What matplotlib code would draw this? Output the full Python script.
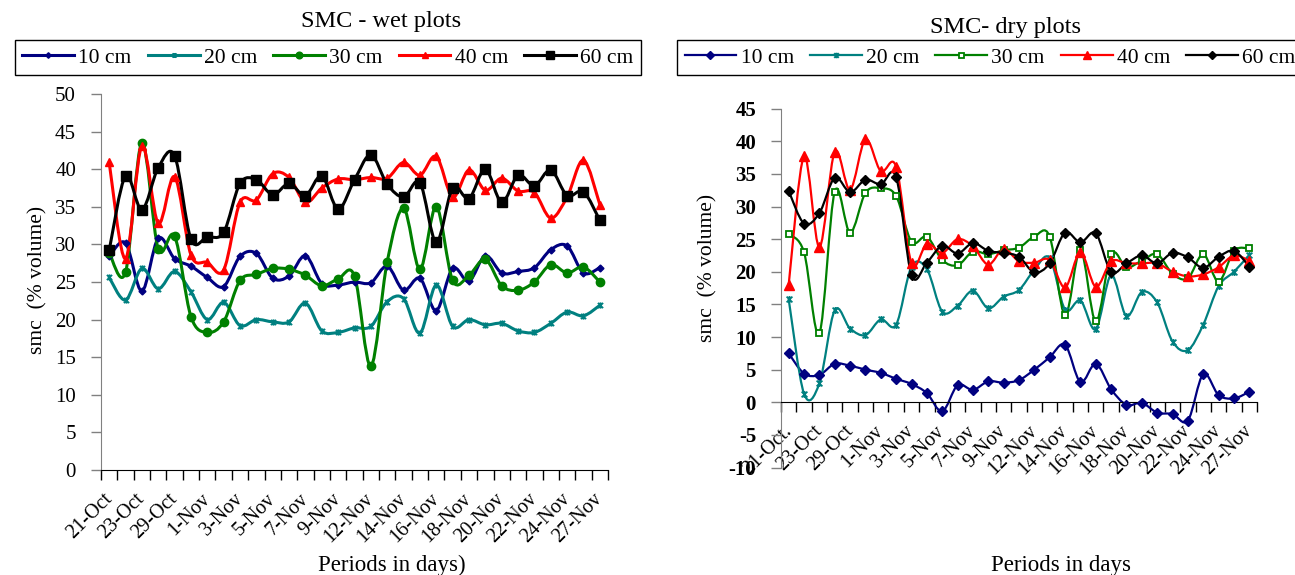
import matplotlib.pyplot as plt
import numpy as np
from matplotlib.path import Path
from matplotlib.patches import PathPatch
from matplotlib.lines import Line2D

plt.rcParams['font.family'] = ['Liberation Serif', 'DejaVu Serif']
plt.rcParams['axes.unicode_minus'] = False

depths = ['10 cm', '20 cm', '30 cm', '40 cm', '60 cm']
colors = ['#000080', '#008080', '#008000', '#ff0000', '#000000']

# every second sampling date is labelled on the axis
labels_wet = ['21-Oct', '23-Oct', '29-Oct', '1-Nov', '3-Nov', '5-Nov', '7-Nov', '9-Nov',
              '12-Nov', '14-Nov', '16-Nov', '18-Nov', '20-Nov', '22-Nov', '24-Nov', '27-Nov']
labels_dry = ['21-Oct.'] + labels_wet[1:]

# SMC - wet plots
wet_10 = [28.4, 30.2, 23.8, 30.8, 28.1, 27.1, 25.6, 24.4, 28.4, 28.8, 25.5, 25.8, 28.5, 24.8, 24.6, 25.0,
          24.9, 27.1, 23.9, 25.5, 21.2, 26.8, 25.1, 28.5, 26.2, 26.4, 26.9, 29.3, 29.8, 26.2, 26.9]
wet_20 = [25.6, 22.6, 26.8, 24.1, 26.4, 23.7, 20.0, 22.3, 19.2, 20.0, 19.7, 19.7, 22.2, 18.5, 18.3, 18.9,
          19.1, 22.4, 22.8, 18.2, 24.6, 19.1, 20.0, 19.3, 19.5, 18.5, 18.3, 19.5, 21.0, 20.5, 21.9]
wet_30 = [28.9, 26.3, 43.5, 29.4, 31.1, 20.4, 18.3, 19.7, 25.2, 26.0, 26.8, 26.7, 25.9, 24.5, 25.4, 25.8,
          13.8, 27.7, 34.8, 26.7, 35.0, 25.2, 25.9, 28.0, 24.5, 23.9, 25.0, 27.3, 26.2, 27.0, 25.0]
wet_40 = [40.9, 28.1, 43.1, 32.8, 39.0, 28.6, 27.6, 26.6, 35.6, 35.9, 39.4, 38.9, 35.6, 37.5, 38.7, 38.6,
          38.9, 38.8, 40.9, 39.2, 41.7, 36.3, 39.9, 37.2, 38.8, 37.1, 36.9, 33.5, 36.3, 41.2, 35.3]
wet_60 = [29.2, 39.1, 34.6, 40.2, 41.8, 30.7, 31.0, 31.6, 38.1, 38.6, 36.6, 38.1, 36.5, 39.1, 34.7, 38.6,
          41.9, 38.0, 36.3, 38.2, 30.3, 37.5, 36.1, 40.0, 35.6, 39.2, 37.8, 39.9, 36.5, 37.0, 33.2]

# SMC - dry plots
dry_10 = [7.5, 4.4, 4.2, 5.9, 5.6, 5.0, 4.5, 3.6, 2.8, 1.4, -1.4, 2.6, 1.9, 3.2, 3.0, 3.4,
          5.0, 6.9, 8.8, 3.1, 5.9, 2.0, -0.4, -0.1, -1.6, -1.8, -2.8, 4.3, 1.1, 0.6, 1.6]
dry_20 = [15.8, 1.3, 2.9, 14.1, 11.3, 10.3, 12.7, 11.9, 20.8, 20.4, 13.9, 14.8, 17.1, 14.4, 16.2, 17.2,
          20.3, 22.1, 14.2, 15.6, 11.2, 19.5, 13.2, 16.9, 15.3, 9.3, 8.0, 11.9, 17.8, 20.0, 22.6]
dry_30 = [25.8, 23.0, 10.6, 32.3, 26.0, 32.1, 32.8, 31.6, 24.6, 25.4, 21.8, 21.0, 23.1, 22.7, 23.3, 23.7,
          25.4, 25.4, 13.3, 23.4, 12.4, 22.7, 20.7, 21.7, 22.7, 19.7, 19.0, 22.7, 18.5, 23.2, 23.6]
dry_40 = [18.0, 37.7, 23.8, 38.4, 32.6, 40.3, 35.4, 36.1, 21.3, 24.3, 22.9, 25.0, 23.9, 21.1, 23.5, 21.6,
          21.4, 21.8, 17.6, 23.0, 17.7, 21.6, 21.3, 21.3, 21.3, 20.0, 19.3, 19.6, 20.7, 22.5, 21.7]
dry_60 = [32.4, 27.4, 29.0, 34.4, 32.2, 34.1, 33.4, 34.5, 19.5, 21.4, 24.0, 22.8, 24.4, 23.2, 22.9, 22.3,
          19.9, 21.3, 26.0, 24.5, 25.9, 20.0, 21.3, 22.5, 21.3, 22.9, 22.2, 20.6, 22.3, 23.2, 20.8]

star = Path([(-1, -1), (1, 1), (-1, 1), (1, -1), (0, -1.2), (0, 1.2)],
            [Path.MOVETO, Path.LINETO, Path.MOVETO, Path.LINETO, Path.MOVETO, Path.LINETO])


def smooth(x, y):
    # Excel-like smoothed line: cubic bezier through the points
    p = np.column_stack([x, y])
    e = np.vstack([p[0], p, p[-1]])
    verts, codes = [p[0]], [Path.MOVETO]
    for i in range(len(p) - 1):
        verts += [e[i + 1] + (e[i + 2] - e[i]) / 6, e[i + 2] - (e[i + 3] - e[i + 1]) / 6, e[i + 2]]
        codes += [Path.CURVE4] * 3
    return Path(verts, codes)


def draw(ax, series, markers, lw):
    for vals, c, (m, ms, mfc, mew) in zip(series, colors, markers):
        x = np.arange(len(vals))
        ax.add_patch(PathPatch(smooth(x, vals), fill=False, edgecolor=c, lw=lw,
                               joinstyle='round', capstyle='round', zorder=2))
        ax.plot(x, vals, ls='none', marker=m, ms=ms, color=c, mfc=mfc, mec=c, mew=mew, zorder=3)
    return [Line2D([], [], color=c, lw=lw, marker=m, ms=ms * 0.8, mfc=mfc, mec=c, mew=mew)
            for c, (m, ms, mfc, mew) in zip(colors, markers)]


def style_x(ax, labels, n):
    ax.set_xlim(-0.5, n - 0.5)
    ax.set_xticks(np.arange(-0.5, n, 1))
    ax.set_xticklabels([])
    ax.set_xticks(np.arange(0, n, 2), labels, minor=True, rotation=45, ha='right', va='center',
                  rotation_mode='anchor', fontsize=14.5)
    ax.tick_params(axis='x', which='major', length=7, width=1, direction='out')
    ax.tick_params(axis='x', which='minor', length=0, pad=19)
    for s in ['top', 'right']:
        ax.spines[s].set_visible(False)


fig = plt.figure(figsize=(12.95, 5.75), dpi=100)

# wet plots
ax1 = fig.add_axes([101 / 1295, 1 - 470 / 575, 507 / 1295, 376 / 575])
h1 = draw(ax1, [wet_10, wet_20, wet_30, wet_40, wet_60],
          [('D', 3.5, None, 1), (star, 4.5, None, 1.3), ('o', 6, None, 1),
           ('^', 6, None, 1), ('s', 6.5, None, 1)], 2.2)
n = len(wet_10)
style_x(ax1, labels_wet, n)
ax1.set_ylim(0, 50)
ax1.set_yticks(np.arange(0, 51, 5))
ax1.tick_params(axis='y', length=7, width=1, pad=11, labelsize=15, color='#808080')
ax1.spines['left'].set_color('#808080')

# dry plots
ax2 = fig.add_axes([781 / 1295, 1 - 467.5 / 575, 476 / 1295, 358.8 / 575])
h2 = draw(ax2, [dry_10, dry_20, dry_30, dry_40, dry_60],
          [('D', 5, None, 1), (star, 5, None, 1.3), ('s', 4.5, 'white', 1.3),
           ('^', 7, None, 1), ('D', 5, None, 1)], 1.6)
ax2.spines['bottom'].set_position(('data', 0))
style_x(ax2, labels_dry, n)
ax2.set_ylim(-10, 45)
ax2.set_yticks(np.arange(-10, 46, 5))
ax2.tick_params(axis='y', length=7, width=1, pad=11, labelsize=15, color='#808080')
for t in ax2.get_yticklabels():
    t.set_fontweight('bold')
ax2.spines['left'].set_color('#808080')

leg_kw = dict(ncol=5, frameon=True, fancybox=False, edgecolor='black', framealpha=1,
              fontsize=15.5, handlelength=2.4, handletextpad=0.2, columnspacing=0.75,
              borderpad=0.35, borderaxespad=0)
l1 = fig.legend(h1, depths, loc='center', bbox_to_anchor=(328 / 1295, 1 - 57.5 / 575), **leg_kw)
l2 = fig.legend(h2, depths, loc='center left', bbox_to_anchor=(677 / 1295, 1 - 57.5 / 575), **leg_kw)
for l in (l1, l2):
    l.get_frame().set_linewidth(1)

fig.text(381 / 1295, 1 - 21 / 575, 'SMC - wet plots', ha='center', va='center', fontsize=17.5)
fig.text(1006 / 1295, 1 - 28 / 575, 'SMC- dry plots', ha='center', va='center', fontsize=17.5)
fig.text(38 / 1295, 1 - 280 / 575, 'smc  (% volume)', rotation=90, ha='center', va='center', fontsize=15.5)
fig.text(708 / 1295, 1 - 268 / 575, 'smc  (% volume)', rotation=90, ha='center', va='center', fontsize=15.5)
fig.text(392 / 1295, 1 - 565 / 575, 'Periods in days)', ha='center', va='center', fontsize=16.5)
fig.text(1061 / 1295, 1 - 565 / 575, 'Periods in days', ha='center', va='center', fontsize=16.5)

plt.savefig('out.png', dpi=100)
